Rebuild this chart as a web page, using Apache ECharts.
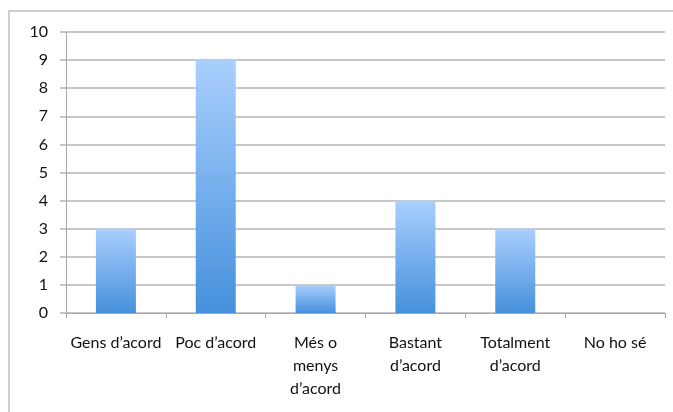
<!DOCTYPE html>
<html><head><meta charset="utf-8">
<script src="https://cdn.jsdelivr.net/npm/echarts@6/dist/echarts.min.js"></script>
<style>html,body{margin:0;padding:0;background:#fff}#c{width:673px;height:412px}</style>
</head><body><div id="c"></div>
<script>
const categories = ["Gens d\u2019acord", "Poc d\u2019acord", "M\u00e9s o\nmenys\nd\u2019acord", "Bastant\nd\u2019acord", "Totalment\nd\u2019acord", "No ho s\u00e9"];
const values = [3, 9, 1, 4, 3, 0];
const yTicks = [0, 10, 1];

const chart = echarts.init(document.getElementById('c'), null, {renderer: 'canvas'});
chart.setOption({
  animation: false,
  backgroundColor: '#fff',
  graphic: [{
    type: 'rect', shape: {x: 9, y: 11, width: 700, height: 450},
    style: {fill: 'none', stroke: '#cfcfcf', lineWidth: 2}, silent: true
  }],
  grid: {left: 66, right: 8, top: 32, bottom: 99, containLabel: false},
  xAxis: {
    type: 'category', data: categories, boundaryGap: true,
    axisLine: {lineStyle: {color: '#a8a8a8', width: 1}},
    axisTick: {show: true, length: 5, lineStyle: {color: '#a8a8a8'}},
    axisLabel: {color: '#111', fontFamily: 'Lato', fontSize: 16, lineHeight: 23, margin: 18, interval: 0}
  },
  yAxis: {
    type: 'value', min: yTicks[0], max: yTicks[1], interval: yTicks[2],
    axisLine: {show: true, lineStyle: {color: '#a8a8a8', width: 1}},
    axisTick: {show: true, length: 6, lineStyle: {color: '#c4c4c4', width: 2}},
    splitLine: {lineStyle: {color: '#c8c8c8', width: 2}},
    axisLabel: {color: '#111', fontFamily: 'Lato', fontSize: 16, margin: 18, align: 'right'}
  },
  series: [{
    type: 'bar', data: values, barWidth: 40,
    itemStyle: {
      color: new echarts.graphic.LinearGradient(0, 0, 0, 1, [
        {offset: 0, color: '#a9cffd'},
        {offset: 1, color: '#4590dc'}
      ])
    }
  }]
});
</script></body></html>
